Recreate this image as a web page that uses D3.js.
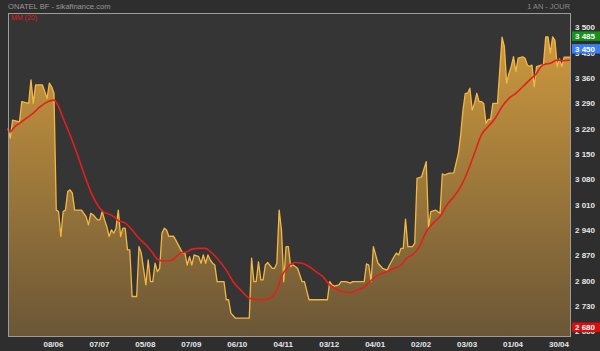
<!DOCTYPE html>
<html>
<head>
<meta charset="utf-8">
<script src="https://cdn.jsdelivr.net/npm/d3@7"></script>
<style>
  body { margin: 0; background: #2e2e2e; }
  svg { display: block; font-family: "Liberation Sans", Arial, sans-serif; }
</style>
</head>
<body>
<svg id="chart" width="600" height="351"></svg>
<script>
// data: trading-day index and closing price (sparse reads)
const priceDays = [0,1,2,5,6,9,10,11,12,15,17,18,19,20,21,22,23,24,25,26,27,28,29,32,33,34,35,36,37,39,40,41,42,43,44,45,46,47,48,49,50,51,52,53,54,56,57,58,60,61,62,63,64,65,66,67,68,69,70,72,73,76,77,78,79,80,81,83,84,85,86,87,88,89,90,91,94,95,96,97,99,105,106,107,108,109,110,111,112,113,115,116,117,118,119,120,121,122,123,124,125,126,128,129,131,139,140,141,142,144,145,147,149,150,155,156,157,158,159,160,161,163,165,166,168,169,170,171,172,173,174,176,177,178,180,182,183,184,186,188,189,190,192,194,196,197,198,199,200,201,202,203,204,205,206,207,208,209,210,211,213,215,216,217,218,219,220,221,222,224,225,226,227,228,229,230,232,233,234,235,236,237,238,239,240,241,242,245];
const priceVals = [3228,3201,3251,3246,3302,3297,3362,3297,3348,3348,3311,3353,3343,3325,3002,2998,2929,2998,3002,3053,3058,3049,3002,3002,2993,2984,2961,2993,2989,2975,2975,2998,2975,2956,2929,2947,2938,2952,3002,2929,2952,2952,2892,2892,2763,2763,2901,2883,2795,2864,2804,2804,2855,2832,2841,2938,2952,2947,2929,2930,2919,2883,2883,2850,2873,2850,2878,2873,2855,2878,2855,2878,2864,2855,2850,2804,2804,2754,2754,2717,2703,2703,2869,2804,2804,2859,2809,2809,2850,2857,2841,2841,2855,3002,2947,2804,2901,2901,2846,2850,2846,2841,2804,2804,2754,2754,2804,2795,2792,2795,2804,2804,2800,2804,2804,2853,2850,2804,2901,2878,2855,2841,2836,2850,2873,2883,2878,2896,2896,2977,2901,2901,2910,3090,3094,3136,2952,2998,3002,2993,3102,3099,3104,3105,3159,3210,3279,3325,3325,3339,3279,3297,3325,3302,3302,3297,3242,3253,3253,3297,3297,3480,3454,3353,3380,3399,3426,3385,3422,3426,3422,3403,3399,3403,3343,3399,3403,3403,3481,3481,3436,3481,3472,3399,3420,3399,3425,3425];

// MM(20) moving average
const maDays = [0,1,3,5,8,11,14,16,20,22,24,27,30,33,36,40,42,43,46,48,51,54,57,60,63,65,68,70,72,75,78,80,83,86,88,91,95,98,102,105,109,111,114,117,119,122,125,128,131,134,137,140,143,146,149,152,155,157,160,163,165,168,171,174,176,179,182,185,188,191,194,197,200,203,206,209,212,215,218,221,224,227,230,232,234,236,239,241,245];
const maVals = [3228,3219,3233,3242,3256,3270,3288,3297,3306,3288,3256,3210,3159,3104,3053,3007,2995,2993,2984,2973,2966,2947,2924,2906,2883,2866,2861,2861,2866,2883,2887,2894,2896,2896,2887,2869,2836,2804,2776,2758,2754,2754,2758,2781,2818,2846,2857,2855,2846,2832,2818,2795,2783,2776,2774,2781,2789,2801,2818,2827,2832,2841,2850,2872,2878,2901,2942,2966,2984,3016,3039,3067,3108,3159,3210,3233,3256,3288,3311,3325,3343,3362,3380,3399,3406,3408,3417,3415,3417];

const yTicks = [3500,3430,3360,3290,3220,3150,3080,3010,2940,2870,2800,2730,2660];
const xTickDays = [20,40,60,80,100,120,140,160,180,200,220,240];
const xTickLabels = ["08/06","07/07","05/08","07/09","06/10","04/11","03/12","04/01","02/02","03/03","01/04","30/04"];

const lastPrice = 3450, periodHigh = 3485, periodLow = 2680;

const svg = d3.select("#chart");
const plot = {left: 8, top: 13, right: 571, bottom: 337};

const x = d3.scaleLinear().domain([0, 245]).range([plot.left, plot.right]);
const y = d3.scaleLinear().domain([2651, 3547]).range([plot.bottom, plot.top]);

const fmt = v => d3.format(",")(v).replace(",", " ");

// plot background
svg.append("rect")
   .attr("x", plot.left).attr("y", plot.top)
   .attr("width", plot.right - plot.left).attr("height", plot.bottom - plot.top)
   .style("fill", "#353535");

const defs = svg.append("defs");
const grad = defs.append("linearGradient")
   .attr("id", "fillGrad").attr("gradientUnits", "userSpaceOnUse")
   .attr("x1", 0).attr("y1", 30).attr("x2", 0).attr("y2", plot.bottom);
grad.append("stop").attr("offset", 0).attr("stop-color", "#cf9a3e");
grad.append("stop").attr("offset", 1).attr("stop-color", "#6a5637");

const pricePts = priceDays.map((d, i) => [d, priceVals[i]]);
const maPts = maDays.map((d, i) => [d, maVals[i]]);

const area = d3.area()
   .x(d => x(d[0])).y0(plot.bottom).y1(d => y(d[1]));
const line = d3.line().x(d => x(d[0])).y(d => y(d[1]));

svg.append("path").datum(pricePts)
   .attr("d", area).style("fill", "url(#fillGrad)");
svg.append("path").datum(pricePts)
   .attr("d", line)
   .style("fill", "none").style("stroke", "#f2b845").style("stroke-width", 1.3)
   .style("stroke-linejoin", "round");

svg.append("path").datum(maPts)
   .attr("d", line.curve(d3.curveMonotoneX))
   .style("fill", "none").style("stroke", "#e3201b").style("stroke-width", 1.6);

// frame
svg.append("rect")
   .attr("x", plot.left + 0.5).attr("y", plot.top + 0.5)
   .attr("width", plot.right - plot.left - 1).attr("height", plot.bottom - plot.top - 1)
   .style("fill", "none").style("stroke", "#9c9c9c").style("stroke-width", 1);

// y labels
svg.append("g").selectAll("text").data(yTicks).join("text")
   .attr("x", 575).attr("y", d => y(d) + 0.5)
   .style("fill", "#e6e6e6").style("font-size", "8px").style("font-weight", "bold")
   .text(d => fmt(d));

// x labels
svg.append("g").selectAll("text").data(xTickDays).join("text")
   .attr("x", d => x(d) - 0.5).attr("y", 347)
   .attr("text-anchor", "middle")
   .style("fill", "#e6e6e6").style("font-size", "8px").style("font-weight", "bold")
   .text((d, i) => xTickLabels[i]);

// value boxes
const boxes = [
  {v: periodHigh, c: "#17901c"},
  {v: lastPrice, c: "#3b7ef0"},
  {v: periodLow, c: "#d80f0f"}
];
const bg = svg.append("g").selectAll("g").data(boxes).join("g");
bg.append("rect")
  .attr("x", 572).attr("y", d => y(d.v) - 4)
  .attr("width", 28).attr("height", 9.5)
  .style("fill", d => d.c);
bg.append("text")
  .attr("x", 575).attr("y", d => y(d.v) + 3.5)
  .style("fill", "#ffffff").style("font-size", "8px").style("font-weight", "bold")
  .text(d => fmt(d.v));

// titles
svg.append("text").attr("x", 8).attr("y", 9)
   .style("fill", "#9a9a9a").style("font-size", "7.6px")
   .text("ONATEL BF - sikafinance.com");
svg.append("text").attr("x", 570).attr("y", 9).attr("text-anchor", "end")
   .style("fill", "#8a8a8a").style("font-size", "7.4px")
   .text("1 AN - JOUR");
svg.append("text").attr("x", 11).attr("y", 20)
   .style("fill", "#e01a1a").style("font-size", "7px")
   .text("MM (20)");
</script>
</body>
</html>
